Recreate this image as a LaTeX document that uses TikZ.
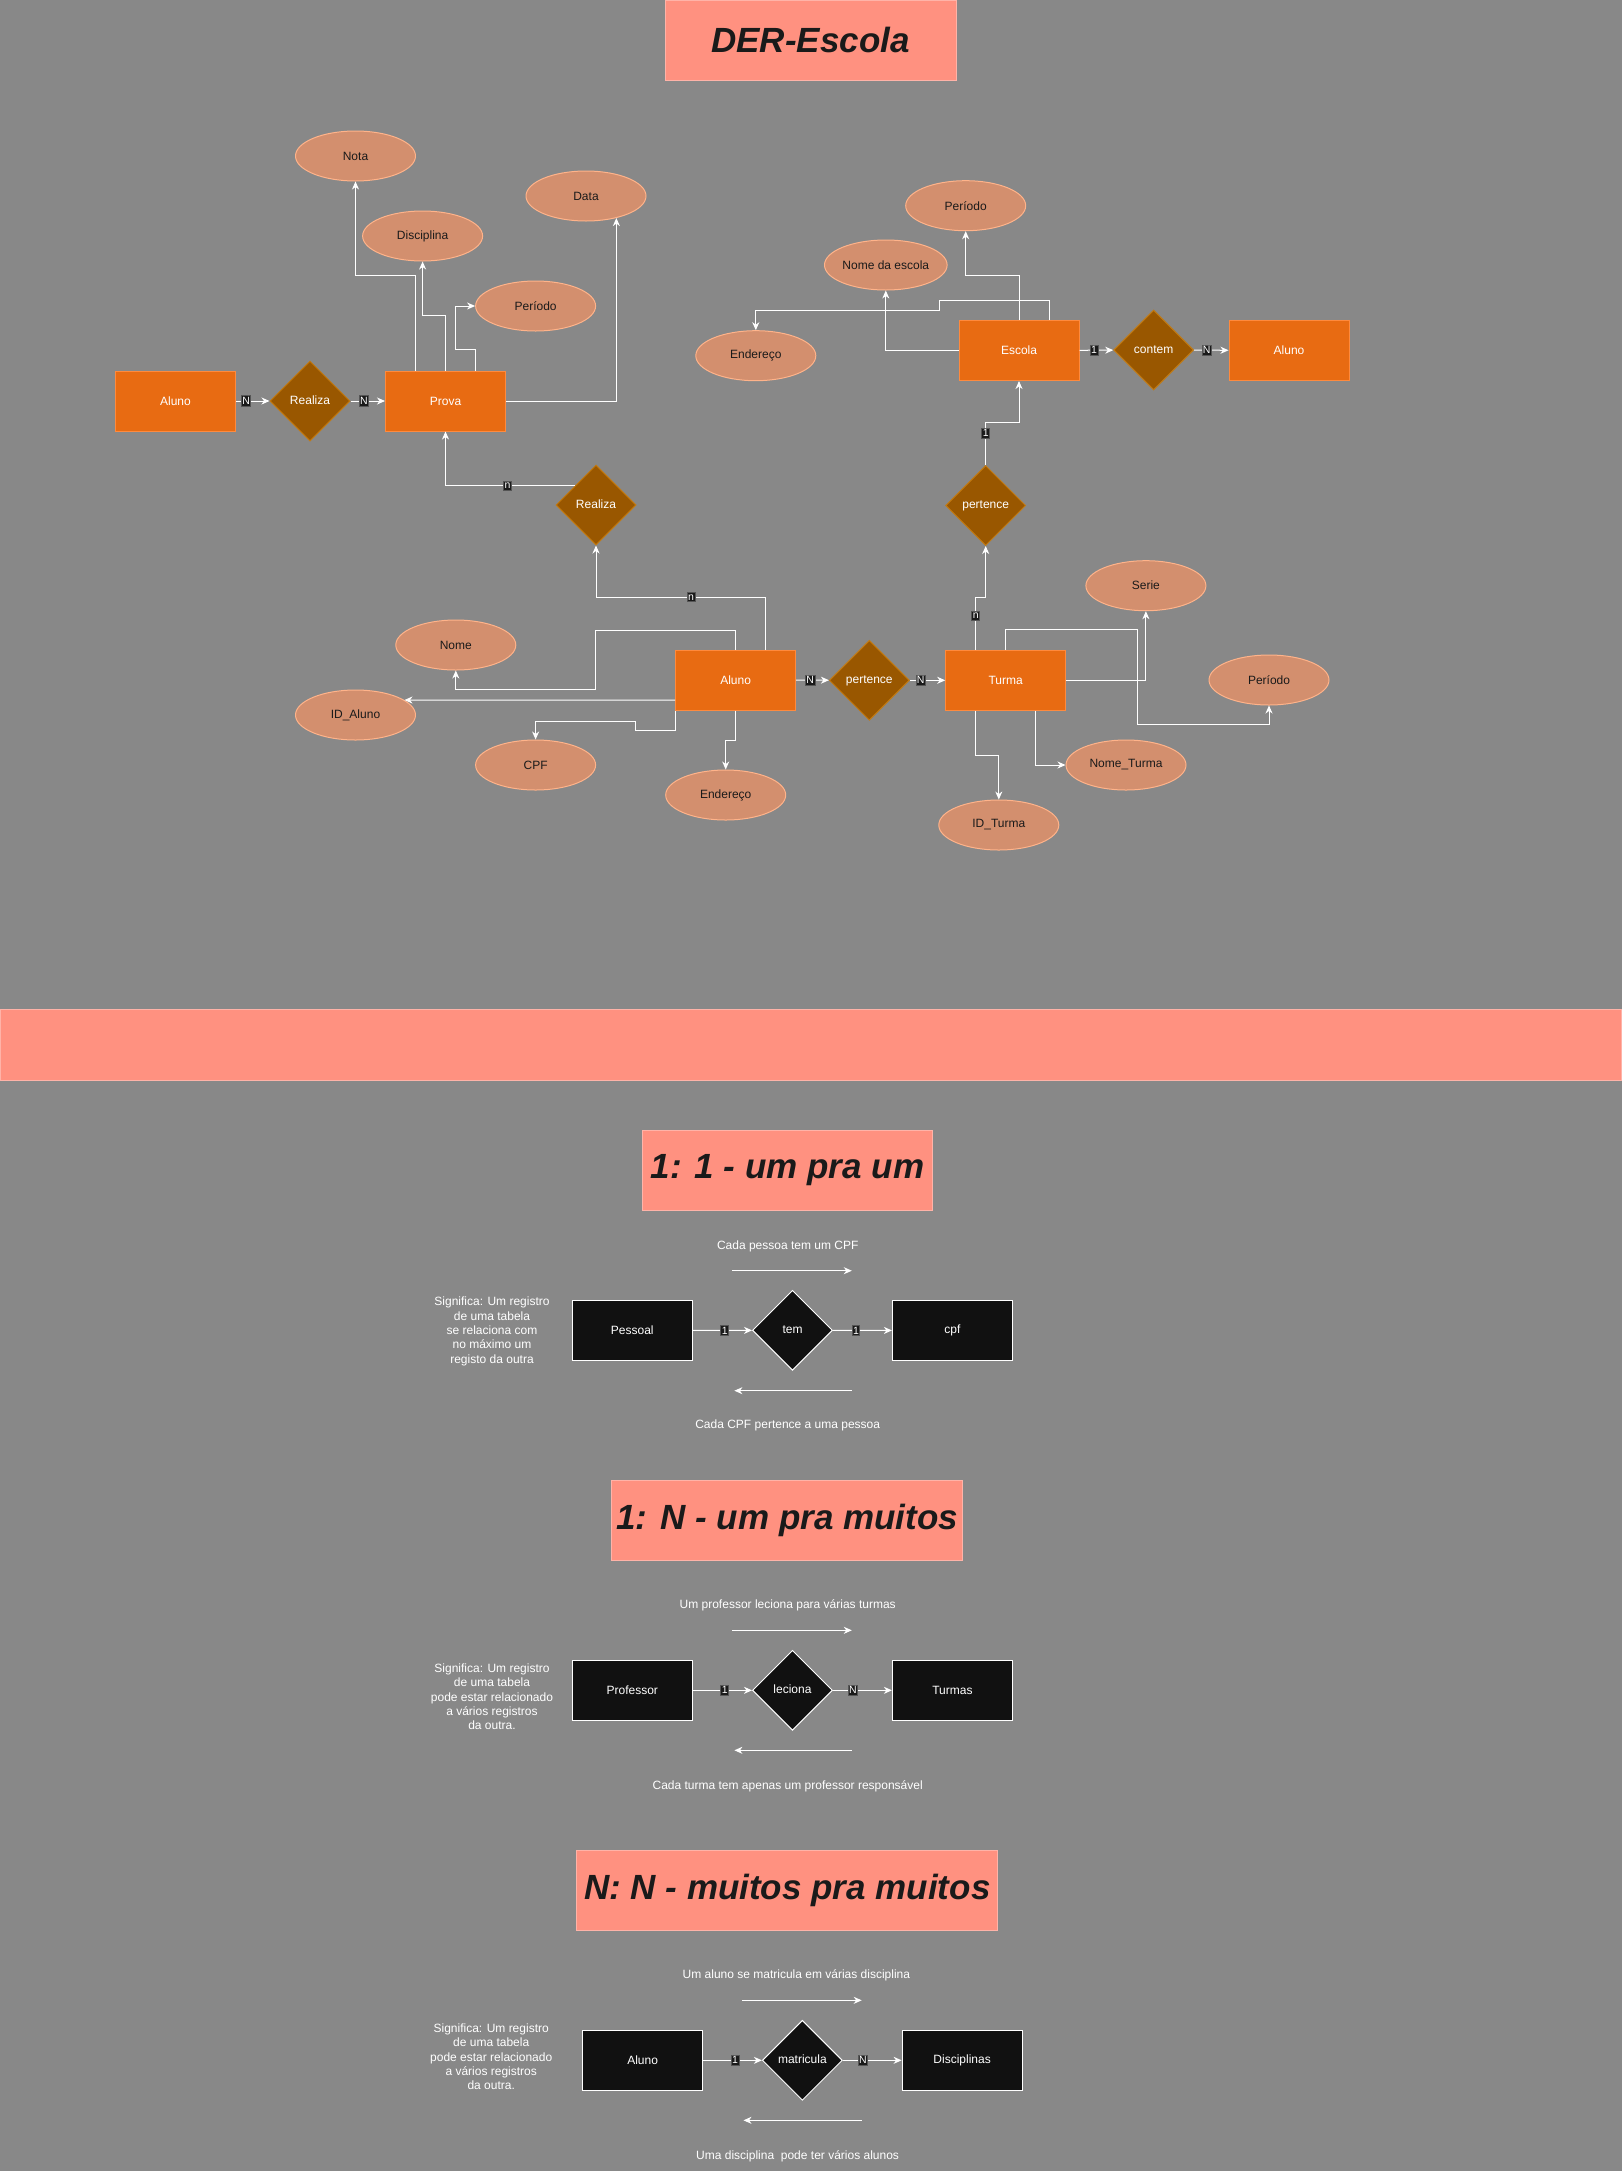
\documentclass[tikz,border=0pt]{standalone}
\usepackage{fontspec}
\setmainfont{Liberation Sans}
\usepackage{tikz}
\usetikzlibrary{shapes.geometric}
\usetikzlibrary{arrows.meta}
\usepackage{xcolor}

\definecolor{fundo}{HTML}{888888}
\definecolor{laranja}{HTML}{E86B12}
\definecolor{laranjaborda}{HTML}{FF8A3D}
\definecolor{marrom}{HTML}{995700}
\definecolor{marromborda}{HTML}{C27A12}
\definecolor{salmao}{HTML}{FF9180}
\definecolor{salmaoborda}{HTML}{FFB3A8}
\definecolor{atributo}{HTML}{D38F6E}
\definecolor{atributoborda}{HTML}{FFB38A}
\definecolor{preto}{HTML}{111111}
\definecolor{escuro}{HTML}{1A1A1A}
\definecolor{cinzacard}{HTML}{555555}

\tikzset{
  texto/.style={font=\fontsize{12}{14.3}\selectfont},
  entidade/.style={texto, rectangle, draw=laranjaborda, fill=laranja, text=white, minimum width=120pt, minimum height=60pt, line width=1pt},
  relacao/.style={texto, diamond, draw=marromborda, fill=marrom, text=white, minimum width=80pt, minimum height=80pt, inner sep=0pt, text height=8.6pt, text depth=2.4pt, line width=1pt},
  atrib/.style={texto, ellipse, draw=atributoborda, fill=atributo, text=escuro, minimum width=120pt, minimum height=50pt, inner sep=0pt, line width=1pt},
  tabela/.style={texto, rectangle, draw=white, fill=preto, text=white, minimum width=120pt, minimum height=60pt, line width=1pt},
  losango/.style={texto, diamond, draw=white, fill=preto, text=white, minimum width=80pt, minimum height=80pt, inner sep=0pt, text height=8.6pt, text depth=2.4pt, line width=1pt},
  titulo/.style={rectangle, draw=salmaoborda, fill=salmao, text=escuro, minimum height=80pt, inner xsep=2pt, line width=1pt, font=\fontsize{35}{42}\selectfont\bfseries\itshape},
  card/.style={fill=escuro, draw=cinzacard, text=white, inner xsep=1pt, inner ysep=1.5pt, line width=0.8pt, font=\fontsize{10.5}{11}\selectfont},
  seta/.style={draw=white, line width=1pt, -{Stealth[length=8pt, width=7pt, inset=2.5pt]}},
  legenda/.style={texto, text=white, align=center},
}

\begin{document}
\begin{tikzpicture}[x=1pt, y=-1pt]
\useasboundingbox (0,0) rectangle (1622,2171);
\fill [fundo] (0,0) rectangle (1622,2171);

\node [titulo, minimum width=291pt] (der) at (810.5,40.3) {DER-Escola};

\node [entidade] (aluno) at (175.5,401) {Aluno};
\node [relacao] (realiza) at (310,401) {Realiza};
\node [entidade] (prova) at (445.5,401) {Prova};
\node [atrib] (nota) at (355.5,156) {Nota};
\node [atrib] (disciplina) at (422.6,236) {Disciplina};
\node [atrib] (data) at (586,196) {Data};
\node [atrib] (periodoprova) at (535.6,306) {Período};
\node [relacao] (realizaprova) at (596,505) {Realiza};
\draw [seta] (aluno)--node [card, pos=0.3] {N} (realiza);
\draw [seta] (realiza)--node [card, pos=0.39] {N} (prova);
\draw [seta] ([xshift=-30pt]prova.north)--++(0,-95)-|(nota);
\draw [seta] (prova.north)--++(0,-55)-|(disciplina);
\draw [seta] ([xshift=30pt]prova.north)--++(0,-21)--++(-20,0)|-(periodoprova);
\draw [seta] (prova.east)-|(data.-36);
\draw [seta] (realizaprova.138)-|node [card, pos=0.26] {n} (prova);

\node [entidade] (escola) at (1019,350.5) {Escola};
\node [relacao] (contem) at (1153.6,350) {contem};
\node [entidade] (alunoescola) at (1289,350.5) {Aluno};
\node [atrib] (periodoescola) at (965.7,205.7) {Período};
\node [atrib] (nomeescola) at (885.8,265) {Nome da escola};
\node [atrib] (enderecoescola) at (755.8,355.7) {Endereço};
\node [relacao] (pertenceescola) at (985.7,505.5) {pertence};
\draw [seta] (escola)--node [card, pos=0.43] {1} (contem);
\draw [seta] (contem)--node [card, pos=0.37] {N} (alunoescola);
\draw [seta] (escola.north)--++(0,-44.8)-|(periodoescola);
\draw [seta] ([xshift=30pt]escola.north)--++(0,-19.5)--++(-110,0)--++(0,10)-|(enderecoescola);
\draw [seta] (escola.west)-|(nomeescola);
\draw [seta] (pertenceescola.north)--node [card, pos=0.75] {1} ++(0,-42.2)-|(escola);

\node [entidade] (alunoturma) at (735.6,680) {Aluno};
\node [relacao] (pertence) at (869.3,680.3) {pertence};
\node [entidade] (turma) at (1005.7,680.3) {Turma};
\node [atrib] (nome) at (455.8,645) {Nome};
\node [atrib] (idaluno) at (355.5,715) {ID\_Aluno};
\node [atrib] (cpf) at (535.6,765) {CPF};
\node [atrib] (enderecoaluno) at (725.7,795) {Endereço};
\node [atrib] (serie) at (1145.9,585.7) {Serie};
\node [atrib] (periodoturma) at (1269,680) {Período};
\node [atrib] (nometurma) at (1126,765) {Nome\_Turma};
\node [atrib] (idturma) at (998.8,825) {ID\_Turma};
\draw [seta] (alunoturma)--node [card, pos=0.43] {N} (pertence);
\draw [seta] (pertence)--node [card, pos=0.31] {N} (turma);
\draw [seta] ([xshift=30pt]alunoturma.north)--++(0,-52.3)-|node [card, pos=0.22] {n} (realizaprova);
\draw [seta] (alunoturma.north)--++(0,-19.3)--++(-140,0)--++(0,59.6)-|(nome);
\draw [seta] ([yshift=-20pt]alunoturma.west)--(idaluno.17);
\draw [seta] (alunoturma.south west)--++(0,20.3)--++(-39.4,0)--++(0,-9.6)-|(cpf);
\draw [seta] (alunoturma.south)--++(0,30.3)-|(enderecoaluno);
\draw [seta] ([xshift=-30pt]turma.north)--node [card, pos=0.64] {n} ++(0,-52.6)-|(pertenceescola);
\draw [seta] (turma.north)--++(0,-20)--++(131.3,0)--++(0,95)-|(periodoturma);
\draw [seta] (turma.east)-|(serie);
\draw [seta] ([xshift=-30pt]turma.south)--++(0,45)-|(idturma);
\draw [seta] ([xshift=30pt]turma.south)|-(nometurma);

\node [titulo, minimum width=1621pt, minimum height=70.7pt] (faixa) at (810.5,1045.3) {};

\node [titulo, minimum width=290.7pt] (umum) at (787.5,1170.3) {1: 1 - um pra um};
\node [legenda] (sig1) at (492,1331.4) {Significa: Um registro\\de uma tabela\\se relaciona com\\no máximo um\\registo da outra};
\node [tabela] (pessoal) at (632.3,1330.5) {Pessoal};
\node [losango] (tem) at (792.5,1330.3) {tem};
\node [tabela] (cpfum) at (952.4,1330.5) {cpf};
\node [legenda] (ida1) at (787.7,1246) {Cada pessoa tem um CPF};
\node [legenda] (volta1) at (787.7,1425.7) {Cada CPF pertence a uma pessoa};
\coordinate (ida1a) at (732.4,1270.7);
\coordinate (ida1b) at (851.8,1270.7);
\coordinate (volta1a) at (851.8,1390.7);
\coordinate (volta1b) at (734.4,1390.7);
\draw [seta] (pessoal)--node [card, pos=0.54] {1} (tem);
\draw [seta] (tem)--node [card, pos=0.39] {1} (cpfum);
\draw [seta] (ida1a)--(ida1b);
\draw [seta] (volta1a)--(volta1b);

\node [titulo, minimum width=350.7pt] (ummuitos) at (787.3,1520.3) {1: N - um pra muitos};
\node [legenda] (sig2) at (492,1696.7) {Significa: Um registro\\de uma tabela\\pode estar relacionado\\a vários registros\\da outra.};
\node [tabela] (professor) at (632.3,1690.3) {Professor};
\node [losango] (leciona) at (792.5,1690.3) {leciona};
\node [tabela] (turmas) at (952.4,1690.3) {Turmas};
\node [legenda] (ida2) at (787.7,1605.7) {Um professor leciona para várias turmas};
\node [legenda] (volta2) at (787.7,1786) {Cada turma tem apenas um professor responsável};
\coordinate (ida2a) at (732.4,1630.3);
\coordinate (ida2b) at (851.8,1630.3);
\coordinate (volta2a) at (851.8,1750.3);
\coordinate (volta2b) at (734.4,1750.3);
\draw [seta] (professor)--node [card, pos=0.54] {1} (leciona);
\draw [seta] (leciona)--node [card, pos=0.34] {N} (turmas);
\draw [seta] (ida2a)--(ida2b);
\draw [seta] (volta2a)--(volta2b);

\node [titulo, minimum width=420.7pt] (muitosmuitos) at (787.3,1890.3) {N: N - muitos pra muitos};
\node [legenda] (sig3) at (491.2,2056.7) {Significa: Um registro\\de uma tabela\\pode estar relacionado\\a vários registros\\da outra.};
\node [tabela] (alunomat) at (642.6,2060.3) {Aluno};
\node [losango] (matricula) at (802.4,2060.3) {matricula};
\node [tabela] (disciplinas) at (962.1,2060.3) {Disciplinas};
\node [legenda] (ida3) at (796.4,1975.7) {Um aluno se matricula em várias disciplina};
\node [legenda] (volta3) at (797.6,2156) {Uma disciplina\ \ pode ter vários alunos};
\coordinate (ida3a) at (742.3,2000.3);
\coordinate (ida3b) at (861.7,2000.3);
\coordinate (volta3a) at (861.7,2120.3);
\coordinate (volta3b) at (743.5,2120.3);
\draw [seta] (alunomat)--node [card, pos=0.545] {1} (matricula);
\draw [seta] (matricula)--node [card, pos=0.34] {N} (disciplinas);
\draw [seta] (ida3a)--(ida3b);
\draw [seta] (volta3a)--(volta3b);
\end{tikzpicture}
\end{document}
